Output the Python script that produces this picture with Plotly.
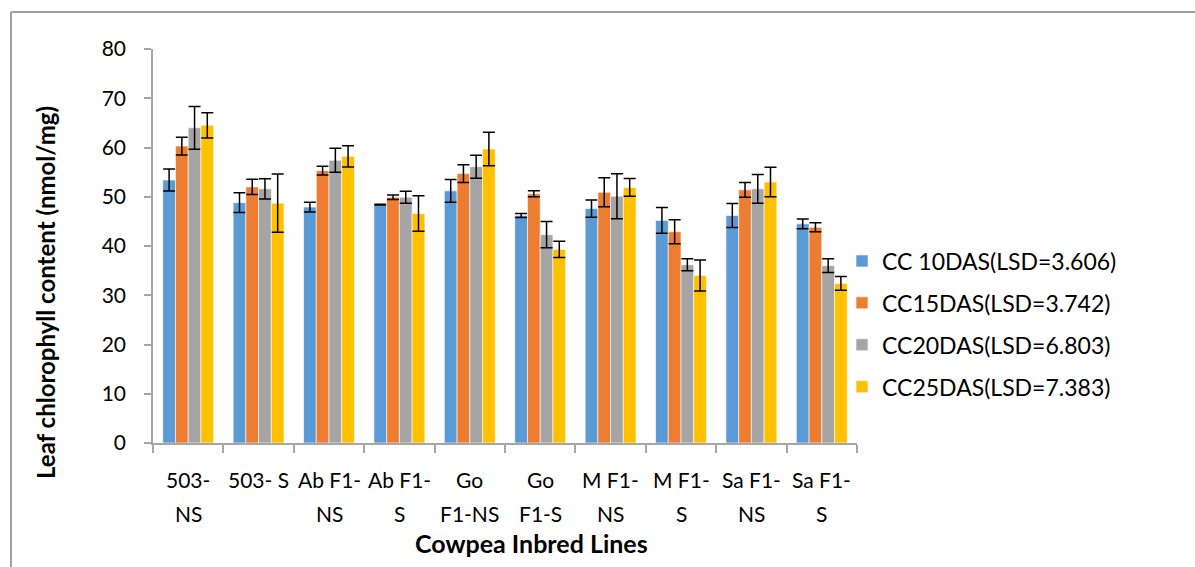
import plotly.graph_objects as go

# Cowpea inbred lines (x-axis categories, two-line labels)
lines = ["503-<br>NS", "503- S", "Ab F1-<br>NS", "Ab F1-<br>S", "Go<br>F1-NS",
         "Go<br>F1-S", "M F1-<br>NS", "M F1-<br>S", "Sa F1-<br>NS", "Sa F1-<br>S"]

# Leaf chlorophyll content (nmol/mg) at each sampling date
cc10 = [53.4, 48.8, 47.9, 48.4, 51.2, 46.2, 47.6, 45.2, 46.2, 44.5]
cc15 = [60.3, 52.0, 55.3, 49.9, 54.7, 50.6, 50.9, 42.9, 51.4, 43.8]
cc20 = [64.0, 51.6, 57.4, 49.9, 56.1, 42.3, 50.1, 36.2, 51.6, 36.0]
cc25 = [64.5, 48.7, 58.2, 46.6, 59.7, 39.3, 51.9, 34.0, 53.0, 32.4]

# Standard errors
se10 = [2.25, 2.0, 1.0, 0.1, 2.3, 0.4, 1.75, 2.6, 2.45, 1.0]
se15 = [1.8, 1.55, 0.9, 0.45, 1.8, 0.6, 2.95, 2.45, 1.5, 0.9]
se20 = [4.35, 2.05, 2.45, 1.2, 2.35, 2.65, 4.55, 1.2, 2.9, 1.4]
se25 = [2.55, 5.9, 2.15, 3.6, 3.4, 1.65, 1.8, 3.15, 3.0, 1.4]

names = ["CC 10DAS(LSD=3.606)", "CC15DAS(LSD=3.742)",
         "CC20DAS(LSD=6.803)", "CC25DAS(LSD=7.383)"]
colors = ["#5B9BD5", "#ED7D31", "#A5A5A5", "#FFC000"]

FONT = "Lato, 'Open Sans', sans-serif"

fig = go.Figure()
for i, (vals, errs) in enumerate(zip([cc10, cc15, cc20, cc25], [se10, se15, se20, se25])):
    fig.add_trace(go.Bar(
        x=lines, y=vals, name=names[i], legendgroup=f"g{i}",
        marker=dict(color=colors[i], line=dict(color="rgba(255,255,255,0.6)", width=1)),
        error_y=dict(type="data", array=errs, visible=True,
                     color="black", thickness=1.5, width=6),
    ))

W, H = 1195, 567
L, R, T, B = 153, 338, 49, 124
pw, ph = W - L - R, H - T - B

def px_x(x):
    return (x - L) / pw

def px_y(y):
    return (H - B - y) / ph

# Category labels drawn line by line for wider line spacing
label_notes = []
for cat in lines:
    for k, part in enumerate(cat.split("<br>")):
        label_notes.append(dict(
            text=part, xref="x", yref="paper", x=cat, y=px_y(479 + 34 * k),
            xanchor="center", yanchor="middle", showarrow=False,
            font=dict(size=21)))

fig.update_layout(
    width=W, height=H,
    margin=dict(l=L, r=R, t=T, b=B),
    plot_bgcolor="white", paper_bgcolor="white",
    barmode="group", bargap=0.277, bargroupgap=0,
    font=dict(family=FONT, size=21, color="black"),
    legend=dict(x=px_x(842), y=px_y(324), xanchor="left", yanchor="middle",
                bgcolor="rgba(0,0,0,0)", font=dict(size=23),
                tracegroupgap=9),
    showlegend=True,
    xaxis=dict(showline=True, linecolor="#A6A6A6", linewidth=1.5,
               ticks="outside", tickson="boundaries", ticklen=8,
               tickcolor="#A6A6A6", tickwidth=1.5, showticklabels=False,
               showgrid=False, zeroline=False),
    yaxis=dict(range=[0, 80], dtick=10, showline=True, linecolor="#A6A6A6",
               linewidth=1.5, ticks="outside", ticklen=7, tickcolor="#A6A6A6",
               tickwidth=1.5, tickfont=dict(size=21), ticklabelstandoff=14,
               showgrid=False, zeroline=False),
    annotations=label_notes + [
        dict(text="<b>Leaf chlorophyll content (nmol/mg)</b>", textangle=-90,
             xref="paper", yref="paper", x=px_x(45), y=px_y(293),
             xanchor="center", yanchor="middle",
             showarrow=False, font=dict(size=24)),
        dict(text="<b>Cowpea Inbred Lines</b>", xref="paper", yref="paper",
             x=px_x(531), y=px_y(543), xanchor="center", yanchor="middle",
             showarrow=False, font=dict(size=25)),
    ],
    shapes=[
        dict(type="line", xref="paper", yref="paper",
             x0=px_x(11), x1=px_x(11), y0=px_y(12), y1=px_y(600),
             line=dict(color="#A0A0A0", width=2)),
        dict(type="line", xref="paper", yref="paper",
             x0=px_x(11), x1=px_x(1300), y0=px_y(12), y1=px_y(12),
             line=dict(color="#A0A0A0", width=2)),
    ],
)

fig.write_html("out.html")
